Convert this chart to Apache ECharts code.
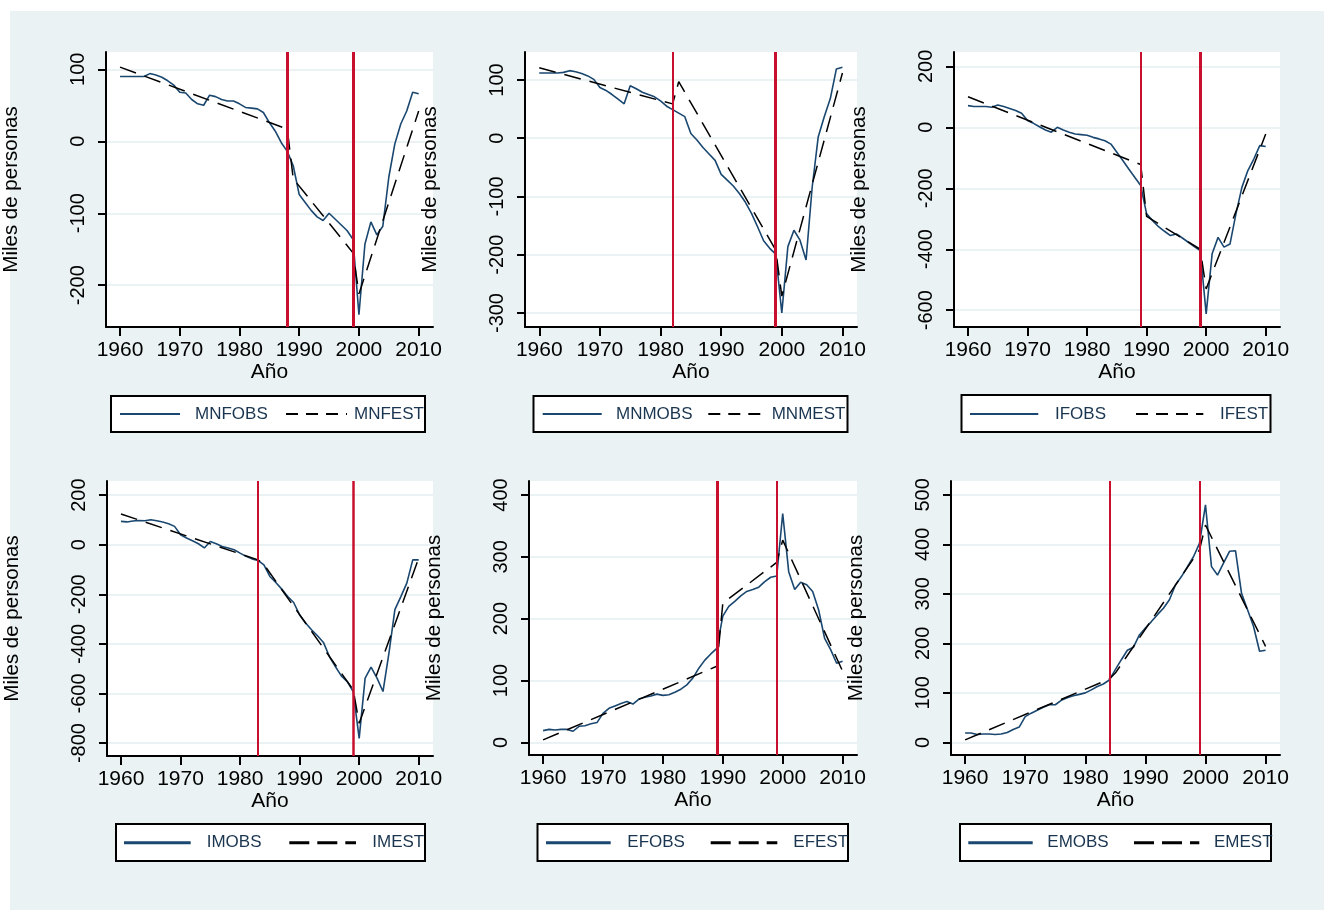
<!DOCTYPE html>
<html><head><meta charset="utf-8">
<script src="https://cdn.jsdelivr.net/npm/echarts@6/dist/echarts.min.js"></script>
<style>
html,body{margin:0;padding:0;background:#fff;}
#bg{position:absolute;left:10px;top:11px;width:1314px;height:899px;background:#eaf2f3;}
#c{position:absolute;left:0;top:0;width:1337px;height:917px;}
</style>
</head><body><div id="bg"></div><div id="c"></div>
<script>
// ---------- DATA ----------
const years = [1960,1961,1962,1963,1964,1965,1966,1967,1968,1969,
  1970,1971,1972,1973,1974,1975,1976,1977,1978,1979,
  1980,1981,1982,1983,1984,1985,1986,1987,1988,1989,
  1990,1991,1992,1993,1994,1995,1996,1997,1998,1999,
  2000,2001,2002,2003,2004,2005,2006,2007,2008,2009,2010];
const xTicks = [1960,1970,1980,1990,2000,2010];

const mnfObs = [90,90,90,90,90,94,92,89,84,78,
  68,67,58,52,50,64,62,58,56,56,
  52,47,46,45,40,26,14,-2,-14,-34,
  -74,-85,-96,-105,-110,-100,-108,-116,-124,-136,
  -241,-143,-112,-130,-118,-50,-4,24,42,68,66];
const mnfEst = [[1960,103],[1988,17],[1989,-52],[1999,-155],[2000,-212],[2010,42]];

const mnmObs = [112,112,112,112,113,116,114,111,107,101,
  87,82,75,67,59,90,85,79,75,71,
  64,55,49,43,37,8,-3,-16,-27,-38,
  -62,-72,-82,-95,-110,-129,-152,-176,-189,-199,
  -300,-186,-158,-175,-209,-85,2,37,68,119,122];
const mnmEst = [[1960,121],[1982,59],[1983,97],[1999,-192],[2000,-271],[2010,112]];

const ifObs = [71,68,68,68,66,73,68,62,55,46,
  22,13,2,-9,-16,0,-9,-16,-22,-24,
  -26,-33,-38,-44,-55,-82,-109,-137,-164,-191,
  -284,-306,-326,-341,-355,-350,-363,-377,-391,-404,
  -612,-415,-361,-393,-383,-284,-197,-142,-104,-60,-63];
const ifEst = [[1960,100],[1989,-122],[1990,-292],[1999,-400],[2000,-530],[2010,-22]];

const imObs = [94,92,96,98,97,101,97,92,85,74,
  40,27,16,4,-13,13,4,-7,-13,-20,
  -34,-47,-57,-63,-81,-128,-152,-179,-209,-233,
  -283,-316,-343,-367,-394,-451,-491,-529,-552,-592,
  -781,-538,-494,-538,-592,-437,-262,-209,-155,-61,-61];
const imEst = [[1960,124],[1983,-61],[1984,-80],[1999,-585],[2000,-720],[2010,-54]];

const efObs = [19,21,20,21,21,18,26,27,30,32,
  47,55,59,63,66,62,70,73,75,78,
  76,77,81,86,93,104,120,133,143,152,
  204,220,228,237,244,247,251,260,267,269,
  370,276,247,259,255,244,214,168,150,128,131];
const efEst = [[1960,4],[1989,123],[1990,225],[1999,291],[2000,327],[2010,115]];

const emObs = [19,19,16,17,17,16,17,20,26,31,
  52,59,65,71,76,76,85,90,94,97,
  100,106,113,118,126,147,167,186,192,217,
  231,244,258,271,288,318,335,355,375,402,
  480,355,338,362,386,387,301,268,234,184,186];
const emEst = [[1960,5],[1984,128],[1985,140],[1999,389],[2000,439],[2010,194]];

const obsNames = ['MNFOBS','MNMOBS','IFOBS','IMOBS','EFOBS','EMOBS'];
const estNames = ['MNFEST','MNMEST','IFEST','IMEST','EFEST','EMEST'];
const obsSets = [mnfObs, mnmObs, ifObs, imObs, efObs, emObs];
const estSets = [mnfEst, mnmEst, ifEst, imEst, efEst, emEst];
const breakYears = [[1988,1999],[1982,1999],[1989,1999],[1983,1999],[1989,1999],[1984,1999]];
const yTickSets = [
  [-200,-100,0,100],
  [-300,-200,-100,0,100],
  [-600,-400,-200,0,200],
  [-800,-600,-400,-200,0,200],
  [0,100,200,300,400],
  [0,100,200,300,400,500]];
const yRanges = [[-258,124],[-324,148],[-655,247],[-852,257],[-20.4,422.6],[-25.5,528]];
const yTitle = 'Miles de personas';
const xTitle = 'Año';

// ---------- LAYOUT ----------
const grids = [
  {left:103, top:52, width:330, height:275},
  {left:525, top:52, width:332, height:275},
  {left:954, top:52, width:326, height:275},
  {left:107, top:481, width:326, height:275},
  {left:529, top:481, width:328, height:274},
  {left:951, top:481, width:329, height:274}];
const breakWidths = [[3,3],[2,3],[2,3],[2,2.5],[3,2],[2,2]];
const legendBoxes = [
  {box:[111,396,314,36], s1:[120,180], t1:195, s2:[286,347], t2:354, cy:414, w:1.8, dash:[12,8]},
  {box:[533.5,396,314,36], s1:[542.7,601.7], t1:616, s2:[708.3,766.7], t2:771.7, cy:414, w:1.8, dash:[12,8]},
  {box:[961.5,395,309,37], s1:[970,1038.3], t1:1055, s2:[1136,1203.3], t2:1220, cy:414, w:1.8, dash:[12,8]},
  {box:[116,824,309,37], s1:[124,190.7], t1:206.7, s2:[289.3,356], t2:372.3, cy:842.7, w:3, dash:[20,8]},
  {box:[537.5,824,310.5,37], s1:[546,610.7], t1:627.3, s2:[710.7,777.3], t2:793.3, cy:842.7, w:3, dash:[20,8]},
  {box:[960,824,311,37], s1:[968.3,1032.7], t1:1047.3, s2:[1134,1199.3], t2:1214, cy:842.7, w:3, dash:[20,8]}];

const FONT = 'Liberation Sans, Arial, sans-serif';
const NAVY = '#1a476f';
const RED = '#c8102e';
const GRIDC = '#eaf2f3';

const chart = echarts.init(document.getElementById('c'), null, {renderer:'canvas'});

const gridOpt = [], xOpt = [], yOpt = [], series = [], graphic = [];
for (let i = 0; i < 6; i++) {
  gridOpt.push(Object.assign({show:true, backgroundColor:'#fff', borderWidth:0, containLabel:false}, grids[i]));
  xOpt.push({
    gridIndex:i, type:'value', min:1957.65, max:2012.4,
    axisLine:{show:true, onZero:false, lineStyle:{color:'#000', width:2}},
    axisTick:{show:true, length:9, lineStyle:{color:'#000', width:2}, customValues:xTicks},
    axisLabel:{show:true, customValues:xTicks, color:'#000', fontSize:21, fontFamily:FONT, margin:13,
      formatter:v=>String(v)},
    splitLine:{show:false},
    name:xTitle, nameLocation:'middle', nameGap:35,
    nameTextStyle:{color:'#000', fontSize:21, fontFamily:FONT}
  });
  yOpt.push({
    gridIndex:i, type:'value', min:yRanges[i][0], max:yRanges[i][1],
    axisLine:{show:true, onZero:false, lineStyle:{color:'#000', width:2}},
    axisTick:{show:true, length:8, lineStyle:{color:'#000', width:2}, customValues:yTickSets[i]},
    axisLabel:{show:true, customValues:yTickSets[i], rotate:90, color:'#000', fontSize:20, fontFamily:FONT, margin:18,
      formatter:v=>String(v)},
    splitLine:{show:true, lineStyle:{color:GRIDC, width:2}},
    name:yTitle, nameLocation:'middle', nameGap:84, nameRotate:90,
    nameTextStyle:{color:'#000', fontSize:20.5, fontFamily:FONT}
  });
  series.push({
    name:obsNames[i], type:'line', xAxisIndex:i, yAxisIndex:i,
    data: years.map((y,k)=>[y, obsSets[i][k]]),
    symbol:'none', showSymbol:false, silent:true, z:2,
    lineStyle:{color:NAVY, width:1.6},
    markLine:{symbol:'none', silent:true, label:{show:false}, animation:false,
      lineStyle:{color:RED, type:'solid'},
      data: breakYears[i].map((b,k)=>({xAxis:b, lineStyle:{color:RED, width:breakWidths[i][k], type:'solid'}}))}
  });
  series.push({
    name:estNames[i], type:'line', xAxisIndex:i, yAxisIndex:i,
    data: estSets[i],
    symbol:'none', showSymbol:false, silent:true, z:3,
    lineStyle:{color:'#000', width:1.5, type:[17,9]}
  });
  const L = legendBoxes[i];
  graphic.push({type:'rect', silent:true, z:10,
    shape:{x:L.box[0], y:L.box[1], width:L.box[2], height:L.box[3]},
    style:{fill:'#fff', stroke:'#000', lineWidth:2}});
  graphic.push({type:'line', silent:true, z:11,
    shape:{x1:L.s1[0], y1:L.cy, x2:L.s1[1], y2:L.cy},
    style:{stroke:NAVY, lineWidth:L.w}});
  graphic.push({type:'text', silent:true, z:11, x:L.t1, y:L.cy,
    style:{text:obsNames[i], fill:'#1a3550', fontSize:17, fontFamily:FONT, verticalAlign:'middle', align:'left'}});
  graphic.push({type:'line', silent:true, z:11,
    shape:{x1:L.s2[0], y1:L.cy, x2:L.s2[1], y2:L.cy},
    style:{stroke:'#000', lineWidth:L.w, lineDash:L.dash}});
  graphic.push({type:'text', silent:true, z:11, x:L.t2, y:L.cy,
    style:{text:estNames[i], fill:'#1a3550', fontSize:17, fontFamily:FONT, verticalAlign:'middle', align:'left'}});
}

chart.setOption({
  backgroundColor:'transparent',
  animation:false,
  grid:gridOpt, xAxis:xOpt, yAxis:yOpt, series:series, graphic:graphic
});
</script>
</body></html>
